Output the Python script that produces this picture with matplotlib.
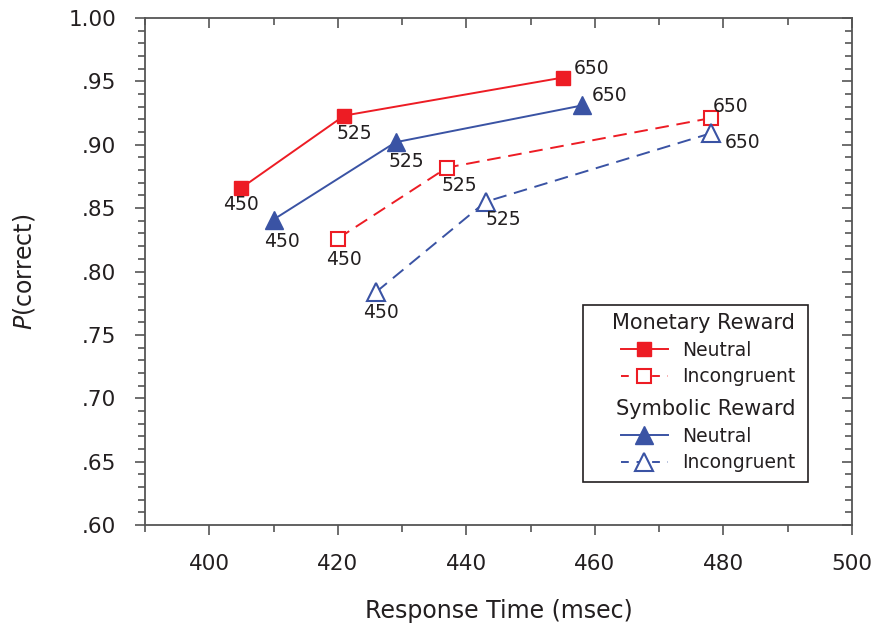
import matplotlib.pyplot as plt
from matplotlib.patches import Rectangle
from matplotlib.lines import Line2D
from matplotlib.ticker import MultipleLocator, FuncFormatter

# response deadline labels (msec)
deadlines = ['450', '525', '650']

# monetary reward
mon_neu_rt = [405, 421, 455]
mon_neu_pc = [0.866, 0.923, 0.953]
mon_inc_rt = [420, 437, 478]
mon_inc_pc = [0.826, 0.882, 0.921]

# symbolic reward
sym_neu_rt = [410, 429, 458]
sym_neu_pc = [0.841, 0.902, 0.931]
sym_inc_rt = [426, 443, 478]
sym_inc_pc = [0.784, 0.855, 0.909]

red = '#ED1C24'
blue = '#3A53A4'
txt = '#231F20'
axc = '#555555'

plt.rcParams['font.family'] = 'DejaVu Sans'
plt.rcParams['text.color'] = txt

fig = plt.figure(figsize=(8.72, 6.28), dpi=100)
ax = fig.add_axes([145/872, 1 - 525/628, 707/872, 507/628])

lw = 1.4
ax.plot(mon_neu_rt, mon_neu_pc, color=red, lw=lw, marker='s', ms=10, mfc=red, mec=red)
ax.plot(sym_neu_rt, sym_neu_pc, color=blue, lw=lw, marker='^', ms=13, mfc=blue, mec=blue)
ax.plot(mon_inc_rt, mon_inc_pc, color=red, lw=lw, dashes=(7, 4), marker='s', ms=10,
        mfc='white', mec=red, mew=1.5)
ax.plot(sym_inc_rt, sym_inc_pc, color=blue, lw=lw, dashes=(7, 4), marker='^', ms=13,
        mfc='white', mec=blue, mew=1.5)

# label offsets in pixels from each point
offs = {
    'mn': [(0, -17), (10, -18), (29, 9)],
    'sn': [(8, -22), (11, -19), (28, 10)],
    'mi': [(6, -21), (12, -18), (20, 12)],
    'si': [(5, -21), (18, -18), (32, -9)],
}
series = {
    'mn': (mon_neu_rt, mon_neu_pc),
    'sn': (sym_neu_rt, sym_neu_pc),
    'mi': (mon_inc_rt, mon_inc_pc),
    'si': (sym_inc_rt, sym_inc_pc),
}
for k, (xs, ys) in series.items():
    for i in range(len(xs)):
        dx, dy = offs[k][i]
        ax.annotate(deadlines[i], (xs[i], ys[i]), xytext=(dx * 0.72, dy * 0.72),
                    textcoords='offset points', ha='center', va='center',
                    fontsize=13.5, color=txt)

ax.set_xlim(390, 500)
ax.set_ylim(0.60, 1.00)
ax.xaxis.set_major_locator(MultipleLocator(20))
ax.xaxis.set_minor_locator(MultipleLocator(10))
ax.yaxis.set_major_locator(MultipleLocator(0.05))
ax.yaxis.set_minor_locator(MultipleLocator(0.01))
ax.yaxis.set_major_formatter(FuncFormatter(
    lambda v, p: '1.00' if v >= 0.999 else ('%.2f' % v)[1:]))
ax.tick_params(which='major', direction='out', length=7.2, width=1.2, colors=axc,
               labelsize=15.5, labelcolor=txt, pad=13.5)
ax.tick_params(which='minor', direction='out', length=5, width=1.2, colors=axc)
for s in ax.spines.values():
    s.set_color(axc)
    s.set_linewidth(1.3)

# inward ticks on top and right
top = ax.secondary_xaxis('top')
right = ax.secondary_yaxis('right')
for sec in (top, right):
    sec.tick_params(which='major', direction='in', length=7.2, width=1.2, colors=axc)
    sec.tick_params(which='minor', direction='in', length=5, width=1.2, colors=axc)
    sec.spines[:].set_visible(False)
top.xaxis.set_major_locator(MultipleLocator(20))
top.xaxis.set_minor_locator(MultipleLocator(10))
top.xaxis.set_major_formatter(FuncFormatter(lambda v, p: ''))
right.yaxis.set_major_locator(MultipleLocator(0.05))
right.yaxis.set_minor_locator(MultipleLocator(0.01))
right.yaxis.set_major_formatter(FuncFormatter(lambda v, p: ''))

ax.set_xlabel('Response Time (msec)', fontsize=17, labelpad=18, color=txt)
ax.set_ylabel(r'$P$(correct)', fontsize=17, labelpad=23, color=txt)

# legend box
ax.add_patch(Rectangle((0.6195, 0.0848), 0.3185, 0.349, transform=ax.transAxes,
                       fill=True, facecolor='white', edgecolor=txt, lw=1.2, zorder=5))
ax.text(0.6605, 0.3984, 'Monetary Reward', transform=ax.transAxes, fontsize=15,
        ha='left', va='center', zorder=7)
ax.text(0.6662, 0.2288, 'Symbolic Reward', transform=ax.transAxes, fontsize=15,
        ha='left', va='center', zorder=7)

h_mn = Line2D([], [], color=red, lw=lw, marker='s', ms=10, mfc=red, mec=red)
h_mi = Line2D([], [], color=red, lw=lw, dashes=(4, 4), marker='s', ms=10, mfc='white', mec=red, mew=1.5)
h_sn = Line2D([], [], color=blue, lw=lw, marker='^', ms=13, mfc=blue, mec=blue)
h_si = Line2D([], [], color=blue, lw=lw, dashes=(4, 4), marker='^', ms=13, mfc='white', mec=blue, mew=1.5)

common = dict(frameon=False, fontsize=13.5, handlelength=2.5, handletextpad=0.75,
              labelspacing=0.4, borderpad=0, borderaxespad=0, loc='center left')
leg1 = ax.legend([h_mn, h_mi], ['Neutral', 'Incongruent'],
                 bbox_to_anchor=(0.6733, 0.3185), **common)
leg1.set_zorder(6)
ax.add_artist(leg1)
leg2 = ax.legend([h_sn, h_si], ['Neutral', 'Incongruent'],
                 bbox_to_anchor=(0.6733, 0.1489), **common)
leg2.set_zorder(6)

fig.savefig('out.png', dpi=100)
